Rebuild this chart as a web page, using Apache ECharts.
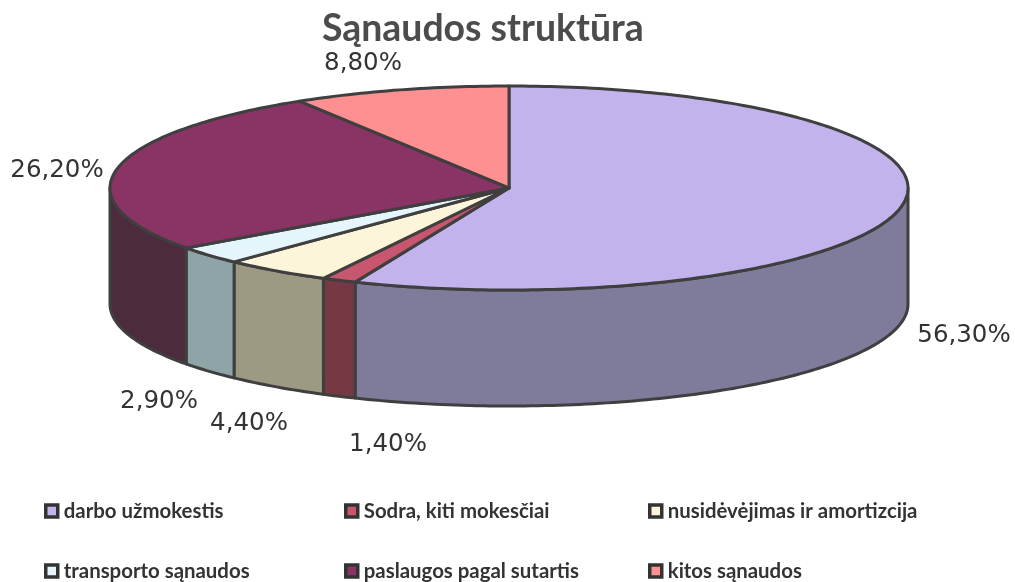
<!DOCTYPE html>
<html>
<head>
<meta charset="utf-8">
<style>
  html, body { margin: 0; padding: 0; background: #fff; }
  #chart { width: 1015px; height: 582px; }
</style>
<script src="https://cdn.jsdelivr.net/npm/echarts@6/dist/echarts.min.js"></script>
</head>
<body>
<div id="chart"></div>
<script>
const categories = ['darbo užmokestis', 'Sodra, kiti mokesčiai', 'nusidėvėjimas ir amortizcija', 'transporto sąnaudos', 'paslaugos pagal sutartis', 'kitos sąnaudos']
const shares = [56.3, 1.4, 4.4, 2.9, 26.2, 8.8]
const topColors = ['#c3b3ec', '#c8566e', '#fdf5da', '#e4f6fc', '#893465', '#ff9091']
const wallColors = ['#7f7c9b', '#763843', '#9d9a83', '#8fa4a6', '#4c2b3d', '#a05a5b']
const labelSpots = [[964, 336], [388, 445], [249, 424], [159, 402], [57, 171], [363, 64]]

// pie drawn as a flattened disc: no 3D pie in plain echarts
const cx = 509
const cy = 188
const rx = 399
const ry = 102
const depth = 116
const outline = '#3f3f3f'

function edgePoint (deg, drop) {
  const a = deg * Math.PI / 180
  return [cx + rx * Math.sin(a), cy - ry * Math.cos(a) + drop]
}

function arcPoints (from, to, drop) {
  const pts = []
  const n = Math.max(2, Math.ceil(Math.abs(to - from)))
  for (let i = 0; i <= n; i++) {
    pts.push(edgePoint(from + (to - from) * i / n, drop))
  }
  return pts
}

function renderSlice (params, api) {
  const i = params.seriesIndex
  const total = shares.reduce((s, v) => s + v, 0)
  const before = shares.slice(0, i).reduce((s, v) => s + v, 0)
  const start = before / total * 360
  const end = start + api.value(0) / total * 360
  const children = []

  // only the front half of the rim shows
  const wallFrom = Math.max(start, 90)
  const wallTo = Math.min(end, 270)
  if (wallTo > wallFrom) {
    children.push({
      type: 'polygon',
      shape: { points: arcPoints(wallFrom, wallTo, 0).concat(arcPoints(wallTo, wallFrom, depth)) },
      style: { fill: wallColors[i], stroke: outline, lineWidth: 3, lineJoin: 'round' }
    })
  }
  children.push({
    type: 'polygon',
    shape: { points: [[cx, cy]].concat(arcPoints(start, end, 0)) },
    style: { fill: topColors[i], stroke: outline, lineWidth: 3, lineJoin: 'round' }
  })
  children.push({
    type: 'text',
    style: {
      text: api.value(0).toFixed(2).replace('.', ',') + '%',
      x: labelSpots[i][0],
      y: labelSpots[i][1],
      align: 'center',
      verticalAlign: 'middle',
      font: '24.5px "DejaVu Sans"',
      fill: '#333'
    }
  })
  return { type: 'group', children: children }
}

const legendBase = {
  orient: 'vertical',
  top: 501,
  height: 90,
  padding: 0,
  itemGap: 40,
  itemWidth: 12,
  itemHeight: 12,
  icon: 'rect',
  selectedMode: false,
  itemStyle: { borderColor: '#333', borderWidth: 3.5 },
  textStyle: { fontFamily: 'Lato', fontWeight: 'bold', fontSize: 20.4, color: '#333', padding: [0, 0, 0, 1] }
}

const mychart = echarts.init(document.getElementById('chart'), null, { renderer: 'canvas' })
mychart.setOption({
  animation: false,
  backgroundColor: '#fff',
  title: {
    text: 'Sąnaudos struktūra',
    left: 317,
    top: 5,
    textStyle: { fontFamily: 'Lato', fontWeight: 'bold', fontSize: 37.4, color: '#4c4c4c' }
  },
  legend: [
    Object.assign({}, legendBase, { left: 44, data: [categories[0], categories[3]] }),
    Object.assign({}, legendBase, { left: 344, data: [categories[1], categories[4]] }),
    Object.assign({}, legendBase, { left: 648, data: [categories[2], categories[5]] })
  ],
  series: categories.map((name, i) => ({
    type: 'custom',
    name: name,
    coordinateSystem: 'none',
    itemStyle: { color: topColors[i] },
    renderItem: renderSlice,
    data: [[shares[i]]]
  }))
})
</script>
</body>
</html>
